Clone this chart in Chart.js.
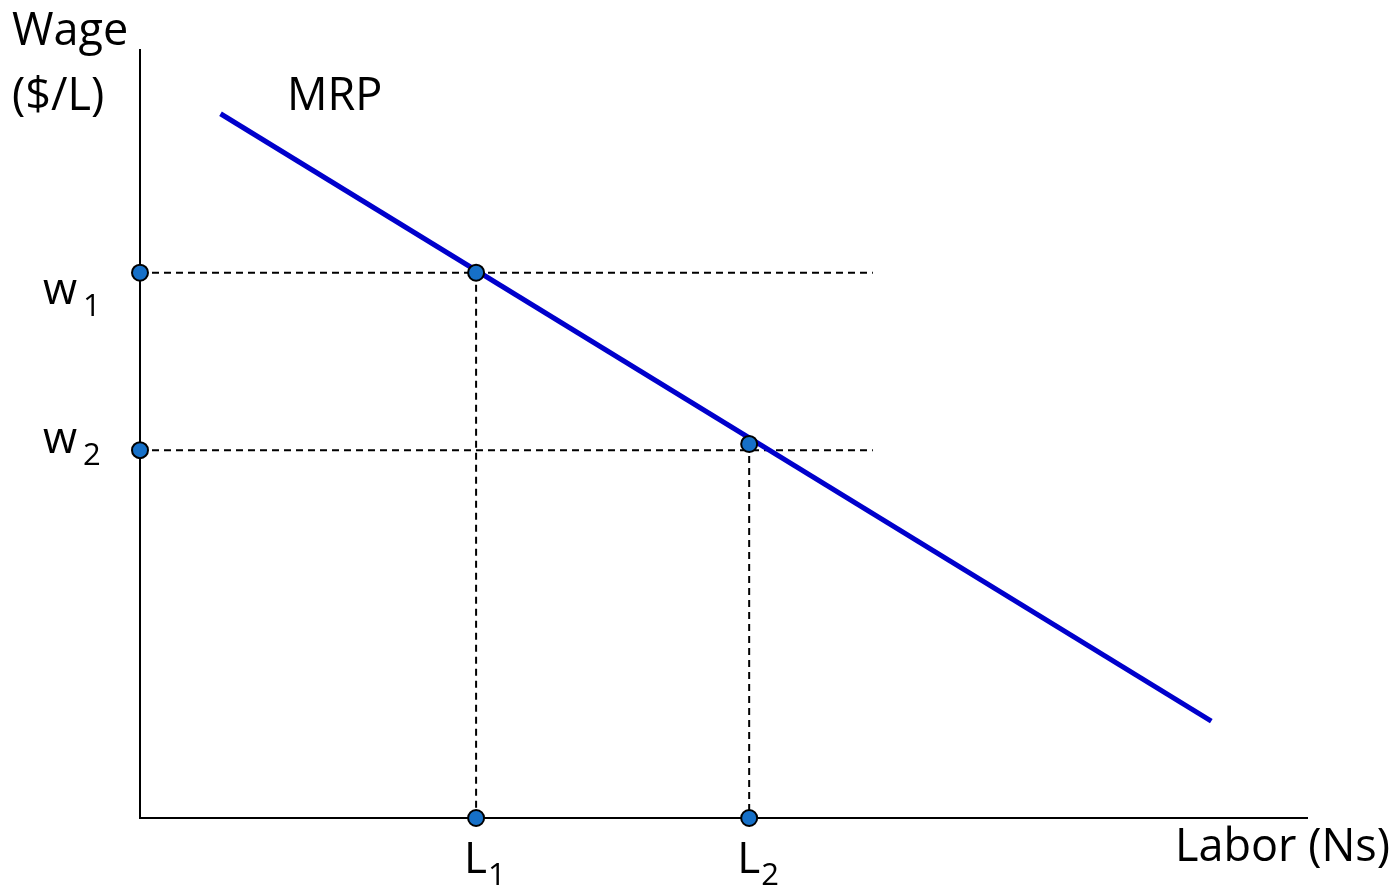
<!DOCTYPE html>
<html>
<head>
<meta charset="utf-8">
<script src="https://cdn.jsdelivr.net/npm/chart.js@4.4.1/dist/chart.umd.min.js"></script>
<style>
  html, body { margin: 0; padding: 0; background: #fff; }
  #wrap { width: 1394px; height: 889px; position: relative; }
</style>
</head>
<body>
<div id="wrap"><canvas id="chart"></canvas></div>
<script>
// axis ranges (arbitrary units)
const xMax = 10;
const yMax = 10;

// MRP curve end points
const mrpX = [0.69, 9.18];
const mrpY = [9.17, 1.26];

// wage levels and labor quantities
const wageValues = [7.10, 4.79];
const wageNames = ['w', 'w'];
const wageSubs = ['1', '2'];
const laborValues = [2.88, 5.22];
const laborNames = ['L', 'L'];
const laborSubs = ['1', '2'];
// y of the points sitting on the MRP curve
const curvePointY = [7.10, 4.87];
// how far the dashed wage lines run
const guideEndX = 6.28;

const axisFont = '"Open Sans", "Noto Sans", sans-serif';
const dotColor = '#1670c8';
// baseline offsets of the w labels from their wage line
const wageLabelDy = [31, 3];

function pts(xs, ys) {
    return xs.map((x, i) => ({ x: x, y: ys[i] }));
}

let guides = [];
wageValues.forEach((w) => {
    guides.push({
        data: [{ x: 0, y: w }, { x: guideEndX, y: w }],
        showLine: true, borderColor: '#000', borderWidth: 2, borderDash: [7, 5],
        pointRadius: 0, order: 3
    });
});
laborValues.forEach((l, i) => {
    guides.push({
        data: [{ x: l, y: curvePointY[i] }, { x: l, y: 0 }],
        showLine: true, borderColor: '#000', borderWidth: 2, borderDash: [7, 5],
        pointRadius: 0, order: 3
    });
});

let dots = [];
wageValues.forEach((w) => dots.push({ x: 0, y: w }));
laborValues.forEach((l, i) => dots.push({ x: l, y: curvePointY[i] }));
laborValues.forEach((l) => dots.push({ x: l, y: 0 }));

// text labels: tick names with subscripts, axis titles, curve name
const labelPlugin = {
    id: 'labels',
    afterDraw(chart) {
        const ctx = chart.ctx;
        const xs = chart.scales.x;
        const ys = chart.scales.y;
        ctx.save();
        ctx.fillStyle = '#000';
        ctx.textBaseline = 'alphabetic';
        ctx.textAlign = 'left';

        function sub(main, small, left, baseline, gap) {
            ctx.font = '44px ' + axisFont;
            const mw = ctx.measureText(main).width;
            ctx.fillText(main, left, baseline);
            ctx.font = '31px ' + axisFont;
            ctx.fillText(small, left + mw + gap, baseline + 12);
        }

        wageValues.forEach((w, i) => {
            sub(wageNames[i], wageSubs[i], 43, ys.getPixelForValue(w) + wageLabelDy[i], 6);
        });
        laborValues.forEach((l, i) => {
            sub(laborNames[i], laborSubs[i], xs.getPixelForValue(l) - 12, ys.getPixelForValue(0) + 55, 1);
        });

        ctx.font = '45px ' + axisFont;
        ctx.fillText('Wage', 12, 45);
        ctx.fillText('($/L)', 12, 110);
        ctx.fillText('MRP', 287, 110);
        ctx.textAlign = 'right';
        ctx.fillText('Labor (Ns)', 1390, 861);
        ctx.restore();
    }
};

new Chart(document.getElementById('chart'), {
    type: 'scatter',
    data: {
        datasets: [
            {
                data: dots,
                pointRadius: 8, pointHoverRadius: 8,
                pointBackgroundColor: dotColor, pointBorderColor: '#000', pointBorderWidth: 2,
                order: 1
            },
            {
                data: pts(mrpX, mrpY),
                showLine: true, borderColor: '#0000cc', borderWidth: 5,
                pointRadius: 0, order: 2
            }
        ].concat(guides)
    },
    options: {
        responsive: true,
        maintainAspectRatio: false,
        animation: false,
        clip: false,
        layout: { padding: { left: 140, top: 50, right: 87, bottom: 71 } },
        plugins: { legend: { display: false }, tooltip: { enabled: false } },
        events: [],
        scales: {
            x: {
                type: 'linear', position: 'bottom', min: 0, max: xMax,
                grid: { display: false, drawTicks: false },
                ticks: { display: false },
                border: { display: true, color: '#000', width: 2 }
            },
            y: {
                type: 'linear', position: 'left', min: 0, max: yMax,
                grid: { display: false, drawTicks: false },
                ticks: { display: false },
                border: { display: true, color: '#000', width: 2 }
            }
        }
    },
    plugins: [labelPlugin]
});
</script>
</body>
</html>
